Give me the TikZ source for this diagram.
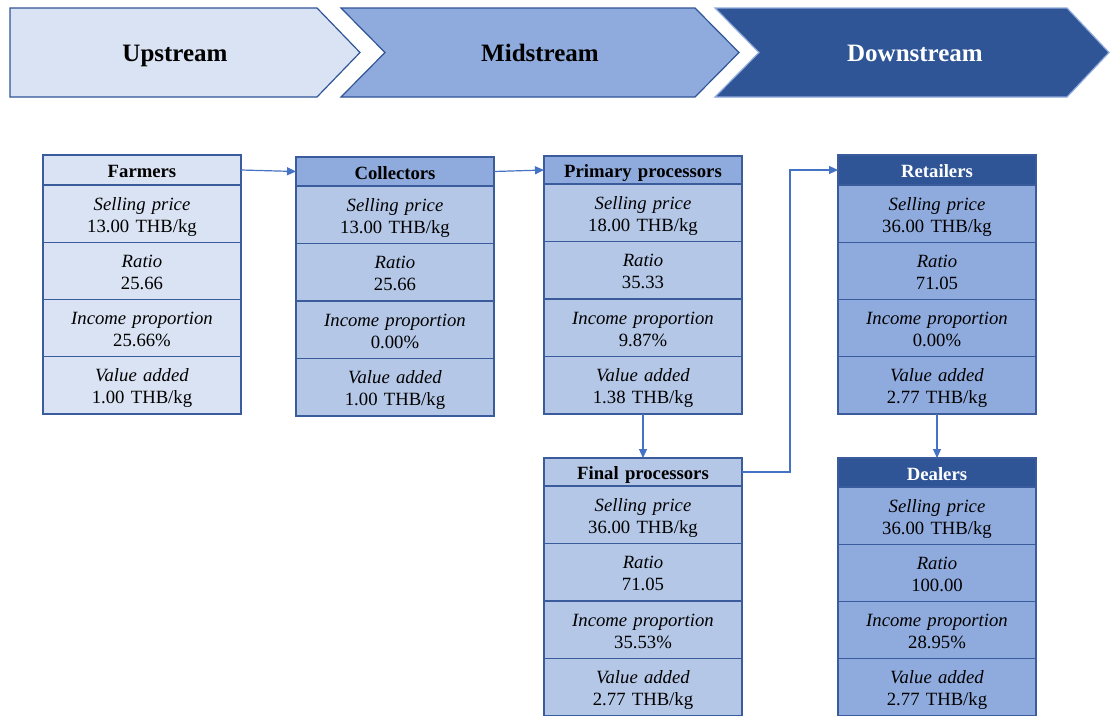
\documentclass[tikz,border=0pt]{standalone}
\usepackage{fontspec}
\setmainfont{Liberation Serif}
\usetikzlibrary{arrows.meta}

\definecolor{paleblue}{HTML}{DAE3F3}
\definecolor{lightblue}{HTML}{B4C7E7}
\definecolor{midblue}{HTML}{8FAADC}
\definecolor{darkblue}{HTML}{2F5597}
\definecolor{edgeblue}{HTML}{3B5C9C}
\definecolor{linkblue}{HTML}{4472C4}

\tikzset{
  cell/.style={draw=edgeblue, line width=1.2pt, inner sep=0pt, outer sep=0pt,
    minimum width=198pt, text width=196pt, align=center, anchor=north west,
    font=\fontsize{18.7}{22}\selectfont},
  head/.style={cell, font=\fontsize{18.7}{22}\selectfont\bfseries,
    text height=17pt, text depth=2pt},
  link/.style={draw=linkblue, line width=1.2pt, -{Triangle[length=9pt,width=8pt]}},
  stage/.style={line width=1.2pt, line join=miter},
  stagetext/.style={font=\fontsize{25}{30}\selectfont\bfseries, anchor=base}
}

% struts that fix the two baselines of an indicator row
\newcommand\toprule{\rule{0pt}{19pt}}
\newcommand\botrule{\rule[-4pt]{0pt}{4pt}}

% header of an actor box: name, x, top, height, title, extra options
\newcommand\chainhead[6]{%
  \node[head, minimum height=#4pt, #6] (#1-h) at (#2,#3) {#5};}
% the four indicator rows below a header: name, fill, row height, values
\newcommand\chainrows[7]{%
  \node[cell, fill=#2, minimum height=#3pt] (#1-1) at (#1-h.south west) {\toprule\textit{Selling price}\\#4\botrule};
  \node[cell, fill=#2, minimum height=#3pt] (#1-2) at (#1-1.south west) {\toprule\textit{Ratio}\\#5\botrule};
  \node[cell, fill=#2, minimum height=#3pt] (#1-3) at (#1-2.south west) {\toprule\textit{Income proportion}\\#6\botrule};
  \node[cell, fill=#2, minimum height=#3pt] (#1-4) at (#1-3.south west) {\toprule\textit{Value added}\\#7\botrule};}

\begin{document}
\begin{tikzpicture}[x=1pt, y=-1pt]
\useasboundingbox (0,0) rectangle (1111,715);
\clip (0,0) rectangle (1111,715);

% stage chevrons
\draw[stage, fill=paleblue, draw=darkblue]
  (10,8) -- (317,8) -- (360,52.5) -- (317,97) -- (10,97) -- cycle;
\draw[stage, fill=midblue, draw=darkblue]
  (341,8) -- (695,8) -- (739,52.5) -- (695,97) -- (341,97) -- (385,52.5) -- cycle;
\draw[stage, fill=darkblue, draw=midblue]
  (715,8) -- (1067,8) -- (1109,52.5) -- (1067,97) -- (715,97) -- (759,52.5) -- cycle;
\node[stagetext] (up) at (175,61) {Upstream};
\node[stagetext] (mid) at (540,61) {Midstream};
\node[stagetext, text=white] (down) at (915,61) {Downstream};

% actors
\chainhead{farm}{43}{155}{30}{Farmers}{fill=paleblue}
\chainrows{farm}{paleblue}{57.25}{13.00 THB/kg}{25.66}{25.66\%}{1.00 THB/kg}

\chainhead{coll}{296}{157}{29}{Collectors}{fill=midblue}
\chainrows{coll}{lightblue}{57.5}{13.00 THB/kg}{25.66}{0.00\%}{1.00 THB/kg}

\chainhead{prim}{544}{156}{28}{Primary processors}{fill=midblue}
\chainrows{prim}{lightblue}{57.5}{18.00 THB/kg}{35.33}{9.87\%}{1.38 THB/kg}

\chainhead{fin}{544}{458}{28}{Final processors}{fill=lightblue}
\chainrows{fin}{lightblue}{57.5}{36.00 THB/kg}{71.05}{35.53\%}{2.77 THB/kg}

\chainhead{ret}{838}{155}{30}{Retailers}{fill=darkblue, text=white}
\chainrows{ret}{midblue}{57.25}{36.00 THB/kg}{71.05}{0.00\%}{2.77 THB/kg}

\chainhead{deal}{838}{458}{29}{Dealers}{fill=darkblue, text=white}
\chainrows{deal}{midblue}{57.25}{36.00 THB/kg}{100.00}{28.95\%}{2.77 THB/kg}

% product flow
\draw[link] (farm-h.east) -- (coll-h.west);
\draw[link] (coll-h.east) -- (prim-h.west);
\draw[link] (prim-4.south) -- (fin-h.north);
\draw[link] (fin-h.east) -- ++(48,0) |- (ret-h.west);
\draw[link] (ret-4.south) -- (deal-h.north);
\end{tikzpicture}
\end{document}
